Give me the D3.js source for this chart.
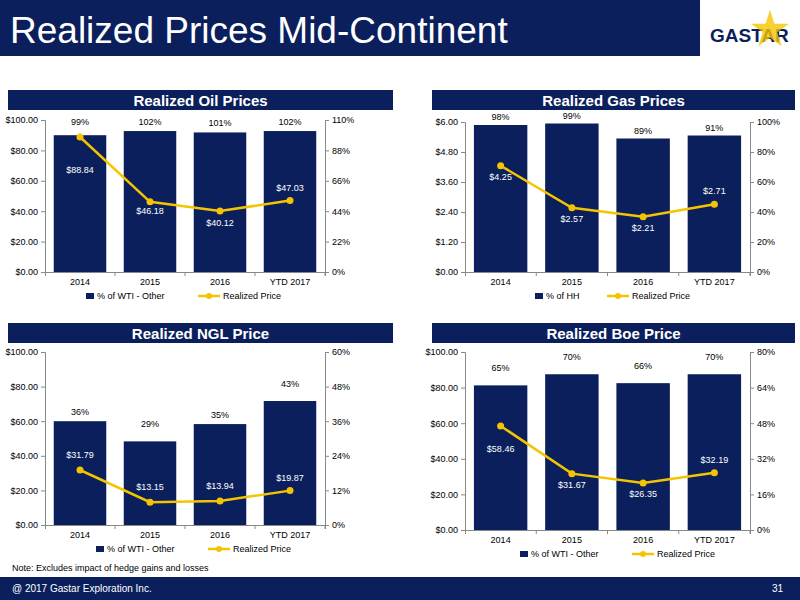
<!DOCTYPE html>
<html><head><meta charset="utf-8">
<script src="https://cdn.jsdelivr.net/npm/d3@7"></script>
<style>body{margin:0;background:#fff;font-family:"Liberation Sans",Arial,sans-serif}</style>
</head><body><svg id="c" width="800" height="600"></svg>
<script>
const categories = ["2014","2015","2016","YTD 2017"];
const oilPct = [99,102,101,102];
const oilPrice = [88.84,46.18,40.12,47.03];
const gasPct = [98,99,89,91];
const gasPrice = [4.25,2.57,2.21,2.71];
const nglPct = [36,29,35,43];
const nglPrice = [31.79,13.15,13.94,19.87];
const boePct = [65,70,66,70];
const boePrice = [58.46,31.67,26.35,32.19];
const oilLeftTicks=[0,20,40,60,80,100], oilRightTicks=[0,22,44,66,88,110];
const gasLeftTicks=[0,1.2,2.4,3.6,4.8,6], gasRightTicks=[0,20,40,60,80,100];
const nglLeftTicks=[0,20,40,60,80,100], nglRightTicks=[0,12,24,36,48,60];
const boeLeftTicks=[0,20,40,60,80,100], boeRightTicks=[0,16,32,48,64,80];

const NAVY="#0a1f5c", GOLD="#f5c400";
const svg=d3.select("#c");
svg.append("rect").attr("x",0).attr("y",0).attr("width",800).attr("height",56).attr("fill",NAVY);
svg.append("rect").attr("x",700).attr("y",0).attr("width",100).attr("height",56).attr("fill","#fff");
svg.append("text").attr("x",10).attr("y",43).attr("fill","#fff").attr("font-size",37).text("Realized Prices Mid-Continent");
svg.append("text").attr("x",710).attr("y",42).attr("fill",NAVY).attr("font-size",19).attr("font-weight","bold").text("GASTAR");
const star=d3.symbol().type(d3.symbolStar).size(450)();
svg.append("path").attr("d",star).attr("transform","translate(770,30)").attr("fill",GOLD).attr("opacity",0.8);
svg.append("rect").attr("x",0).attr("y",577).attr("width",800).attr("height",23).attr("fill",NAVY);
svg.append("text").attr("x",12).attr("y",592).attr("fill","#fff").attr("font-size",10).text("@ 2017 Gastar Exploration Inc.");
svg.append("text").attr("x",783).attr("y",592).attr("fill","#fff").attr("font-size",10).attr("text-anchor","end").text("31");
svg.append("text").attr("x",12).attr("y",571).attr("fill","#000").attr("font-size",9).text("Note: Excludes impact of hedge gains and losses");

function panel(o){
  svg.append("rect").attr("x",o.bx).attr("y",o.by).attr("width",o.bw).attr("height",20).attr("fill",NAVY);
  svg.append("text").attr("x",o.bx+o.bw/2).attr("y",o.by+16).attr("text-anchor","middle").attr("fill","#fff").attr("font-size",15).attr("font-weight","bold").text(o.title);
  const x=d3.scaleBand().domain(categories).range([o.x0,o.x1]).paddingInner(0.25).paddingOuter(0.125);
  const yl=d3.scaleLinear().domain([0,o.lt[o.lt.length-1]]).range([o.y1,o.y0]);
  const yr=d3.scaleLinear().domain([0,o.rt[o.rt.length-1]]).range([o.y1,o.y0]);
  const g=svg.append("g").attr("font-size",9);
  const la=g.append("g").attr("transform",`translate(${o.x0},0)`).call(d3.axisLeft(yl).tickValues(o.lt).tickSize(4).tickFormat(d=>"$"+d.toFixed(2)));
  const ra=g.append("g").attr("transform",`translate(${o.x1},0)`).call(d3.axisRight(yr).tickValues(o.rt).tickSize(4).tickFormat(d=>d+"%"));
  const ba=g.append("g").attr("transform",`translate(0,${o.y1})`).call(d3.axisBottom(x).tickSize(4));
  [la,ra,ba].forEach(a=>{a.selectAll("path,line").attr("stroke","#888");a.selectAll("text").attr("fill","#000").attr("font-size",9).attr("font-family","Liberation Sans,Arial");});
  ba.selectAll(".tick line").attr("transform",`translate(${x.step()/2},0)`);
  g.selectAll(".bar").data(o.pct).enter().append("rect").attr("x",(d,i)=>x(categories[i])).attr("width",x.bandwidth())
   .attr("y",d=>yr(d)).attr("height",d=>o.y1-yr(d)).attr("fill",NAVY);
  g.selectAll(".pl").data(o.pct).enter().append("text").attr("x",(d,i)=>x(categories[i])+x.bandwidth()/2)
   .attr("y",(d,i)=>yr(d)-(o.pdy?o.pdy[i]:5)).attr("text-anchor","middle").attr("font-size",9).text(d=>d+"%");
  const line=d3.line().x((d,i)=>x(categories[i])+x.bandwidth()/2).y(d=>yl(d));
  g.append("path").attr("d",line(o.price)).attr("fill","none").attr("stroke",GOLD).attr("stroke-width",2.5);
  g.selectAll(".pt").data(o.price).enter().append("circle").attr("cx",(d,i)=>x(categories[i])+x.bandwidth()/2).attr("cy",d=>yl(d)).attr("r",3.5).attr("fill",GOLD);
  g.selectAll(".vl").data(o.price).enter().append("text").attr("x",(d,i)=>x(categories[i])+x.bandwidth()/2)
   .attr("y",(d,i)=>yl(d)+o.vdy[i]).attr("text-anchor","middle").attr("fill","#fff").attr("font-size",9).text(d=>"$"+d.toFixed(2));
  const lx=o.lx, ly=o.y1+27;
  g.append("rect").attr("x",lx).attr("y",ly-6).attr("width",8).attr("height",6).attr("fill",NAVY);
  g.append("text").attr("x",lx+11).attr("y",ly).attr("font-size",9).text(o.leg);
  g.append("line").attr("x1",lx+o.lgap).attr("x2",lx+o.lgap+22).attr("y1",ly-3).attr("y2",ly-3).attr("stroke",GOLD).attr("stroke-width",2.5);
  g.append("circle").attr("cx",lx+o.lgap+11).attr("cy",ly-3).attr("r",3).attr("fill",GOLD);
  g.append("text").attr("x",lx+o.lgap+25).attr("y",ly).attr("font-size",9).text("Realized Price");
}
panel({title:"Realized Oil Prices",bx:8,by:90,bw:385,x0:45,x1:325,y0:120,y1:272,lt:oilLeftTicks,rt:oilRightTicks,pct:oilPct,price:oilPrice,vdy:[36,12,15,-10],pdy:[10,6,6,6],leg:"% of WTI - Other",lx:86,lgap:112});
panel({title:"Realized Gas Prices",bx:432,by:90,bw:363,x0:465,x1:750,y0:122,y1:272,lt:gasLeftTicks,rt:gasRightTicks,pct:gasPct,price:gasPrice,vdy:[14,14,14,-10],leg:"% of HH",lx:535,lgap:72});
panel({title:"Realized NGL Price",bx:8,by:323,bw:385,x0:45,x1:325,y0:352,y1:525,lt:nglLeftTicks,rt:nglRightTicks,pct:nglPct,price:nglPrice,vdy:[-12,-12,-12,-10],pdy:[6,14,6,14],leg:"% of WTI - Other",lx:96,lgap:112});
panel({title:"Realized Boe Price",bx:432,by:323,bw:363,x0:465,x1:750,y0:352,y1:530,lt:boeLeftTicks,rt:boeRightTicks,pct:boePct,price:boePrice,vdy:[26,14,14,-10],pdy:[14,14,14,14],leg:"% of WTI - Other",lx:520,lgap:112});
</script></body></html>
